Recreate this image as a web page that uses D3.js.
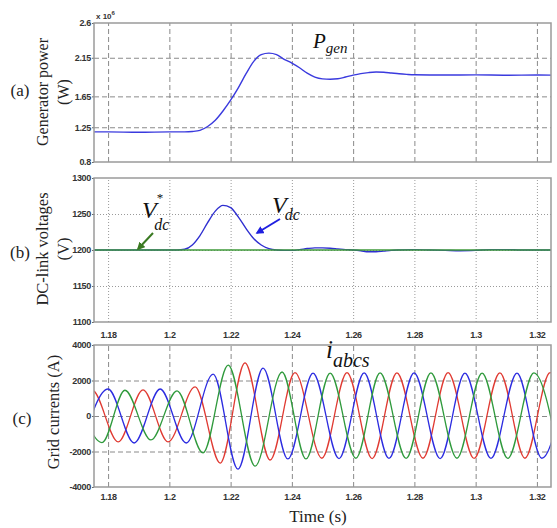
<!DOCTYPE html>
<html><head><meta charset="utf-8">
<script src="https://cdn.jsdelivr.net/npm/d3@7"></script>
<style>
html,body{margin:0;padding:0;background:#fff;}
svg{display:block;}
.tick text{font-family:"Liberation Sans Narrow","Liberation Sans",Arial,sans-serif;font-weight:bold;font-size:9px;fill:#333;letter-spacing:-0.3px;}
.ttl{font-family:"Liberation Serif","Times New Roman",serif;fill:#222;}
.mth{font-family:"Liberation Serif","Times New Roman",serif;font-style:italic;fill:#111;}
</style></head><body>
<svg id="c" width="557" height="528"></svg>
<script>
// ---------- data ----------
const timeTicks = [1.18,1.2,1.22,1.24,1.26,1.28,1.3,1.32];
const timeTickLabels = ["1.18","1.2","1.22","1.24","1.26","1.28","1.3","1.32"];
const powerTicks = [0.8,1.25,1.65,2.15,2.6];
const powerTickLabels = ["0.8","1.25","1.65","2.15","2.6"];
const voltTicks = [1100,1150,1200,1250,1300];
const currentTicks = [-4000,-2000,0,2000,4000];

// Generator power (x10^6 W)
const pgenTime = [1.175,1.18,1.19,1.2,1.205,1.2075,1.21,1.2125,1.215,1.2175,1.22,1.2225,1.225,1.2275,1.23,1.2325,1.235,1.2375,1.24,1.2425,1.245,1.2475,1.25,1.2525,1.255,1.2575,1.26,1.2625,1.265,1.2675,1.27,1.2725,1.275,1.2775,1.28,1.29,1.3,1.31,1.32,1.325];
const pgenValue = [1.19,1.19,1.185,1.19,1.19,1.195,1.21,1.26,1.34,1.46,1.60,1.76,1.94,2.10,2.19,2.21,2.19,2.13,2.08,2.02,1.95,1.90,1.877,1.872,1.878,1.90,1.925,1.945,1.958,1.965,1.962,1.952,1.942,1.935,1.93,1.926,1.928,1.924,1.926,1.925];

// DC-link voltage (V)
const vdcTime = [1.175,1.2,1.2025,1.205,1.2075,1.21,1.2125,1.215,1.2175,1.22,1.2225,1.225,1.2275,1.23,1.2325,1.235,1.2375,1.24,1.2425,1.245,1.2475,1.25,1.2525,1.255,1.2575,1.26,1.2625,1.265,1.2675,1.27,1.2725,1.275,1.28,1.285,1.29,1.295,1.3,1.305,1.31,1.315,1.32,1.325];
const vdcValue = [1200,1200,1200,1201,1207,1220,1238,1254,1262,1259,1246,1230,1216,1207,1202,1200,1199.5,1199.5,1200.5,1202,1203,1203,1202.5,1201.5,1200.5,1200,1199,1197.5,1197.5,1198.5,1199.5,1200,1200.5,1200,1199.5,1199,1199.5,1200.5,1200.5,1200,1200,1200];
const vdcRefTime = [1.17,1.33];
const vdcRefValue = [1200,1200];

// Grid currents (A): extrema of each phase
const iaTime = [1.1665,1.1748,1.1833,1.1914,1.1996,1.2084,1.2166,1.2247,1.2329,1.2410,1.2498,1.2580,1.2662,1.2743,1.2828,1.2910,1.2995,1.3079,1.3161,1.3243,1.3330];
const iaValue = [-1450,1450,-1460,1470,-1460,1640,-2650,2990,-2480,2440,-2380,2440,-2400,2430,-2380,2440,-2390,2430,-2380,2440,-2400];
const ibTime = [1.1717,1.1800,1.1885,1.1970,1.2055,1.2143,1.2224,1.2306,1.2387,1.2469,1.2554,1.2636,1.2717,1.2799,1.2884,1.2965,1.3050,1.3135,1.3216,1.3300];
const ibValue = [-1500,1520,-1520,1520,-1520,2360,-2990,2700,-2420,2420,-2400,2430,-2390,2430,-2400,2420,-2390,2420,-2380,2420];
const icTime = [1.1695,1.1780,1.1855,1.1940,1.2025,1.2110,1.2192,1.2280,1.2368,1.2446,1.2525,1.2609,1.2688,1.2773,1.2854,1.2939,1.3021,1.3105,1.3190,1.3273];
const icValue = [1450,-1500,1450,-1350,1420,-2080,2870,-2820,2480,-2420,2420,-2380,2430,-2390,2430,-2380,2420,-2390,2430,-2400];

// ---------- layout ----------
const svg = d3.select("#c");
const L = 94, R = 551;
const x = d3.scaleLinear().domain([1.1754,1.3246]).range([L,R]);
const panels = [
  {id:"a", top:23, bot:162, dom:[0.8,2.6], ticks:powerTicks, fmt:(d,i)=>powerTickLabels[i], grid:"5,3", gridCol:"#8a8a8a", xlab:false, pad:0},
  {id:"b", top:178, bot:322, dom:[1100,1300], ticks:voltTicks, fmt:d=>d, grid:"1,2", gridCol:"#9a9a9a", xlab:true, pad:10},
  {id:"c", top:345, bot:487, dom:[-4000,4000], ticks:currentTicks, fmt:d=>d, grid:"5,3", gridCol:"#8a8a8a", xlab:true, pad:7}
];
const zip = (t,v)=>t.map((d,i)=>[d,v[i]]);

panels.forEach(p=>{
  p.y = d3.scaleLinear().domain(p.dom).range([p.bot,p.top]);
  const g = svg.append("g");
  g.append("defs").append("clipPath").attr("id","clip"+p.id)
    .append("rect").attr("x",L).attr("y",p.top).attr("width",R-L).attr("height",p.bot-p.top);
  const vg = g.append("g").attr("transform",`translate(0,${p.bot})`)
    .call(d3.axisBottom(x).tickValues(timeTicks).tickSize(-(p.bot-p.top)).tickFormat(""));
  vg.select(".domain").remove();
  vg.selectAll("line").attr("stroke",p.gridCol).attr("stroke-dasharray",p.grid);
  const hg = g.append("g").attr("transform",`translate(${L},0)`)
    .call(d3.axisLeft(p.y).tickValues(p.ticks.slice(1,-1)).tickSize(-(R-L)).tickFormat(""));
  hg.select(".domain").remove();
  hg.selectAll("line").attr("stroke",p.gridCol).attr("stroke-dasharray",p.grid);
  const ya = g.append("g").attr("transform",`translate(${L},0)`)
    .call(d3.axisLeft(p.y).tickValues(p.ticks).tickSize(2).tickPadding(1).tickFormat(p.fmt));
  ya.select(".domain").remove();
  ya.selectAll("line").attr("stroke","#666");
  if (p.xlab) {
    const xa = g.append("g").attr("transform",`translate(0,${p.bot})`)
      .call(d3.axisBottom(x).tickValues(timeTicks).tickSize(0).tickPadding(p.pad).tickFormat((d,i)=>timeTickLabels[i]));
    xa.select(".domain").remove();
  }
  p.g = g;
});

const pa = panels[0], pb = panels[1], pc = panels[2];
pa.g.append("path").attr("clip-path","url(#clipa)")
  .attr("d", d3.line().x(d=>x(d[0])).y(d=>pa.y(d[1])).curve(d3.curveMonotoneX)(zip(pgenTime,pgenValue)))
  .attr("fill","none").attr("stroke","#3a3ade").attr("stroke-width",1.4);

pb.g.append("path").attr("clip-path","url(#clipb)")
  .attr("d", d3.line().x(d=>x(d[0])).y(d=>pb.y(d[1])).curve(d3.curveMonotoneX)(zip(vdcTime,vdcValue)))
  .attr("fill","none").attr("stroke","#2f2fd0").attr("stroke-width",1.4);
pb.g.append("path").attr("clip-path","url(#clipb)")
  .attr("d", d3.line().x(d=>x(d[0])).y(d=>pb.y(d[1]))(zip(vdcRefTime,vdcRefValue)))
  .attr("fill","none").attr("stroke","#3f9a3a").attr("stroke-width",1.4);

[[iaTime,iaValue,"#e03a32"],[ibTime,ibValue,"#2c2ce0"],[icTime,icValue,"#2f9a3c"]].forEach(s=>{
  pc.g.append("path").attr("clip-path","url(#clipc)")
    .attr("d", d3.line().x(d=>x(d[0])).y(d=>pc.y(d[1])).curve(d3.curveMonotoneX)(zip(s[0],s[1])))
    .attr("fill","none").attr("stroke",s[2]).attr("stroke-width",1.3);
});

panels.forEach(p=>{
  svg.append("rect").attr("x",L).attr("y",p.top).attr("width",R-L).attr("height",p.bot-p.top)
    .attr("fill","none").attr("stroke","#9a9a9a").attr("stroke-width",1.5);
});

const sc = svg.append("text").attr("x",96).attr("y",19).attr("font-family","Liberation Sans, Arial, sans-serif").attr("font-size",8).attr("font-weight","bold").attr("fill","#333");
sc.append("tspan").text("x 10");
sc.append("tspan").attr("dy",-4).attr("font-size",6).text("6");

function vtitle(lines, cy, size){
  lines.forEach(t=>{
    svg.append("text").attr("class","ttl").attr("font-size",size)
      .attr("transform",`translate(${t.x},${cy}) rotate(-90)`).attr("text-anchor","middle")
      .attr("dominant-baseline","central").text(t.s);
  });
}
vtitle([{s:"Generator power",x:42},{s:"(W)",x:63}],92,16);
vtitle([{s:"DC-link voltages",x:42},{s:"(V)",x:63}],249,16.5);
vtitle([{s:"Grid currents (A)",x:53}],412,16.5);
[["(a)",20,90],["(b)",20,252],["(c)",22,418]].forEach(d=>{
  svg.append("text").attr("class","ttl").attr("font-size",17).attr("x",d[1]).attr("y",d[2])
    .attr("text-anchor","middle").attr("dominant-baseline","central").text(d[0]);
});
svg.append("text").attr("class","ttl").attr("font-size",17).attr("x",318).attr("y",522)
  .attr("text-anchor","middle").text("Time (s)");

const pg = svg.append("text").attr("class","mth").attr("x",313).attr("y",48);
pg.append("tspan").attr("font-size",21).text("P");
pg.append("tspan").attr("font-size",15).attr("dy",5).text("gen");

const v1 = svg.append("text").attr("class","mth").attr("x",142).attr("y",218);
v1.append("tspan").attr("font-size",24).text("V");
v1.append("tspan").attr("font-size",13).attr("font-style","normal").attr("dx",0).attr("dy",-16).text("*");
v1.append("tspan").attr("font-size",16).attr("dx",-9).attr("dy",28).text("dc");

const v2 = svg.append("text").attr("class","mth").attr("x",272).attr("y",213);
v2.append("tspan").attr("font-size",24).text("V");
v2.append("tspan").attr("font-size",16).attr("dx",-2).attr("dy",7).text("dc");

const ia = svg.append("text").attr("class","mth").attr("x",326).attr("y",358);
ia.append("tspan").attr("font-size",25).text("i");
ia.append("tspan").attr("font-size",20).attr("dy",9).text("abcs");

const defs = svg.append("defs");
[["ag","#3a7a22"],["ab","#1f1fe0"]].forEach(a=>{
  defs.append("marker").attr("id",a[0]).attr("viewBox","0 0 10 10").attr("refX",8).attr("refY",5)
    .attr("markerWidth",4).attr("markerHeight",4).attr("orient","auto")
    .append("path").attr("d","M0,0L10,5L0,10Z").attr("fill",a[1]);
});
svg.append("line").attr("x1",153).attr("y1",233).attr("x2",138).attr("y2",249)
  .attr("stroke","#3a7a22").attr("stroke-width",2).attr("marker-end","url(#ag)");
svg.append("line").attr("x1",280).attr("y1",219).attr("x2",257).attr("y2",233)
  .attr("stroke","#1f1fe0").attr("stroke-width",2).attr("marker-end","url(#ab)");
</script>
</body></html>
